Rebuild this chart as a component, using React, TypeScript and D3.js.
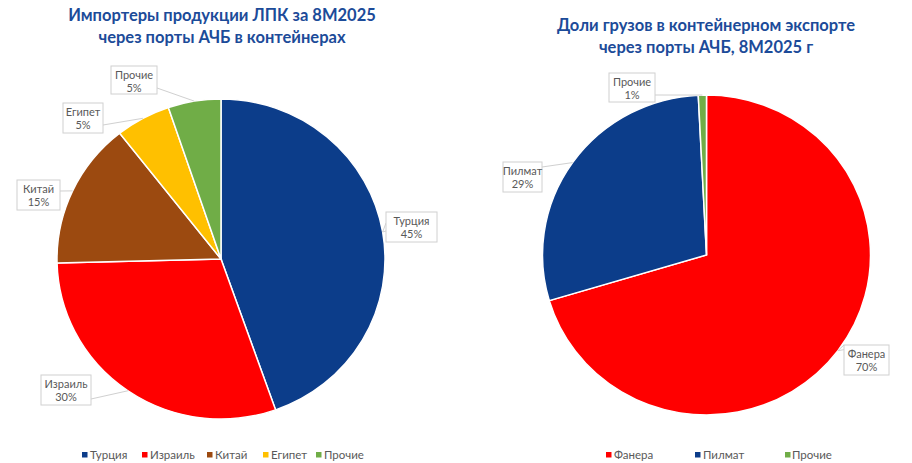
import React from "react";
import * as d3 from "d3";

const leftTitle = ["Импортеры продукции ЛПК за 8М2025", "через порты АЧБ в контейнерах"];
const leftCategories = ["Турция", "Израиль", "Китай", "Египет", "Прочие"];
const leftValues = [44.6, 30.0, 14.8, 5.4, 5.2];
const leftColors = ["#0c3d8a", "#ff0000", "#9c4a10", "#ffc000", "#70ad47"];

const rightTitle = ["Доли грузов в контейнерном экспорте", "через порты АЧБ, 8М2025 г"];
const rightCategories = ["Фанера", "Пилмат", "Прочие"];
const rightValues = [70.4, 28.8, 0.8];
const rightColors = ["#ff0000", "#0c3d8a", "#70ad47"];

type Box = { x: number; y: number; w: number; h: number; ay?: number };

interface PieSpec {
  title: string[];
  titleX: number;
  titleY: number;
  cats: string[];
  vals: number[];
  colors: string[];
  cx: number;
  cy: number;
  rx: number;
  ry: number;
  boxes: Box[];
  legendSq: number[];
  legendTx: number[];
}

const specs: PieSpec[] = [
  {
    title: leftTitle,
    titleX: 222,
    titleY: 21,
    cats: leftCategories,
    vals: leftValues,
    colors: leftColors,
    cx: 221,
    cy: 259,
    rx: 164,
    ry: 160,
    boxes: [
      { x: 386, y: 212, w: 51, h: 30 },
      { x: 41, y: 375, w: 50, h: 30, ay: 399 },
      { x: 17, y: 180, w: 43, h: 30, ay: 191 },
      { x: 63, y: 103, w: 40, h: 30, ay: 125 },
      { x: 111, y: 66, w: 46, h: 28, ay: 88 },
    ],
    legendSq: [82, 142, 207, 263, 316],
    legendTx: [90, 150, 215, 271, 324],
  },
  {
    title: rightTitle,
    titleX: 706,
    titleY: 31,
    cats: rightCategories,
    vals: rightValues,
    colors: rightColors,
    cx: 706.5,
    cy: 255,
    rx: 164,
    ry: 160,
    boxes: [
      { x: 844, y: 345, w: 45, h: 30 },
      { x: 503, y: 162, w: 39, h: 30, ay: 167 },
      { x: 609, y: 73, w: 46, h: 29, ay: 95 },
    ],
    legendSq: [606, 695, 785],
    legendTx: [614, 703, 792],
  },
];

const FONT = "Lato, 'Open Sans', sans-serif";

function PieChart({ s }: { s: PieSpec }) {
  const total = d3.sum(s.vals);
  const pie = d3
    .pie<number>()
    .sort(null)
    .value((d) => d)
    .startAngle(0)
    .endAngle(2 * Math.PI);
  const arcs = pie(s.vals);
  const arc = d3.arc<d3.PieArcDatum<number>>().innerRadius(0).outerRadius(s.rx);
  const k = s.ry / s.rx;

  return (
    <g>
      {s.title.map((t, i) => (
        <text
          key={i}
          x={s.titleX}
          y={s.titleY + i * 22}
          textAnchor="middle"
          fontFamily={FONT}
          fontWeight="bold"
          fontSize={16.5}
          fill="#1c4b99"
        >
          {t}
        </text>
      ))}
      <g transform={`translate(${s.cx},${s.cy}) scale(1,${k})`}>
        {arcs.map((a, i) => (
          <path key={i} d={arc(a) || ""} fill={s.colors[i]} stroke="#fff" strokeWidth={1.5} />
        ))}
      </g>
      {arcs.map((a, i) => {
        const b = s.boxes[i];
        const mid = (a.startAngle + a.endAngle) / 2;
        const px = s.cx + s.rx * Math.sin(mid);
        const py = s.cy - s.ry * Math.cos(mid);
        const qx = Math.max(b.x, Math.min(b.x + b.w, px));
        const qy = Math.max(b.y, Math.min(b.y + b.h, py));
        const dist = Math.hypot(px - qx, py - qy);
        let leader;
        if (dist < 12) {
          const vertical = qx === b.x || qx === b.x + b.w;
          const p1 = vertical ? [qx, Math.max(b.y, qy - 9)] : [Math.max(b.x, qx - 9), qy];
          const p2 = vertical ? [qx, Math.min(b.y + b.h, qy - 1)] : [Math.min(b.x + b.w, qx - 1), qy];
          leader = (
            <polyline
              points={`${p1[0]},${p1[1]} ${px},${py} ${p2[0]},${p2[1]}`}
              fill="#fff"
              stroke="#d0d0d0"
              strokeWidth={1}
            />
          );
        } else {
          const sideX = px > b.x + b.w ? b.x + b.w : px < b.x ? b.x : qx;
          const sideY = b.ay !== undefined ? b.ay : qy;
          leader = (
            <line x1={sideX} y1={sideY} x2={px} y2={py} stroke="#d0d0d0" strokeWidth={1} />
          );
        }
        const pct = Math.round((s.vals[i] / total) * 100);
        return (
          <g key={i}>
            {leader}
            <rect x={b.x} y={b.y} width={b.w} height={b.h} fill="#fff" stroke="#d0d0d0" strokeWidth={1} />
            <text
              x={b.x + b.w / 2}
              y={b.y + 12.5}
              textAnchor="middle"
              fontFamily={FONT}
              fontSize={11}
              fill="#595959"
            >
              {s.cats[i]}
            </text>
            <text
              x={b.x + b.w / 2}
              y={b.y + 25.5}
              textAnchor="middle"
              fontFamily={FONT}
              fontSize={11}
              fill="#595959"
            >
              {pct}%
            </text>
          </g>
        );
      })}
      {s.cats.map((c, i) => (
        <g key={i}>
          <rect x={s.legendSq[i]} y={452} width={5.5} height={5.5} fill={s.colors[i]} />
          <text x={s.legendTx[i]} y={459} fontFamily={FONT} fontSize={11.5} fill="#595959">
            {c}
          </text>
        </g>
      ))}
    </g>
  );
}

export default function App() {
  return (
    <svg
      width={912}
      height={463}
      style={{ position: "absolute", left: 0, top: 0, background: "#fff" }}
    >
      <rect width={912} height={463} fill="#fff" />
      {specs.map((s, i) => (
        <PieChart key={i} s={s} />
      ))}
    </svg>
  );
}
